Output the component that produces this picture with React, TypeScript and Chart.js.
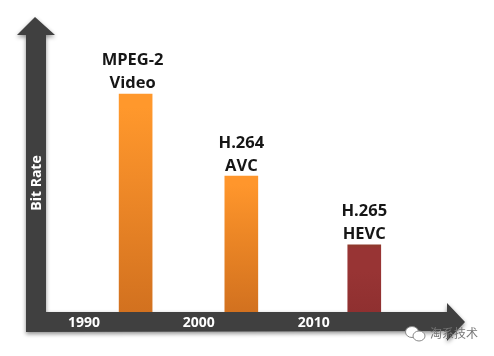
import React, { useEffect, useRef } from "react";
import { Chart, registerables } from "chart.js";

Chart.register(...registerables);

const codecLines: string[][] = [["MPEG-2", "Video"], ["H.264", "AVC"], ["H.265", "HEVC"]];
const releaseYears = [1994.5, 2003.7, 2014.4];
const bitRates = [84.5, 52.7, 26];
const topColors = ["#FF982C", "#FF962C", "#8E3A2C"];
const midColors = ["#F08A28", "#EE8826", "#983434"];
const bottomColors = ["#D2711F", "#D2711F", "#8F3030"];
const tickYears = [1990, 2000, 2010];
const axisTitle = "Bit Rate";
const watermark = "淘系技术";
const AXIS = "#404040";
const FONT = '"Open Sans", "Noto Sans", sans-serif';
const labelShift = [-3, 0, 0];

const axesPlugin = {
  id: "arrowAxes",
  beforeDraw(chart: any) {
    const { ctx, chartArea: a } = chart;
    ctx.save();
    ctx.fillStyle = "#fff";
    ctx.fillRect(0, 0, chart.width, chart.height);
    ctx.shadowColor = "rgba(0,0,0,0.45)";
    ctx.shadowBlur = 4;
    ctx.shadowOffsetY = 2;
    ctx.fillStyle = AXIS;
    const l = a.left, b = a.bottom, r = a.right;
    ctx.beginPath();
    ctx.moveTo(l - 20, b + 20);
    ctx.lineTo(l - 20, a.top - 19);
    ctx.lineTo(l - 29, a.top - 19);
    ctx.lineTo(l - 11, a.top - 37);
    ctx.lineTo(l + 9, a.top - 19);
    ctx.lineTo(l, a.top - 19);
    ctx.lineTo(l, b);
    ctx.lineTo(r, b);
    ctx.lineTo(r, b - 9);
    ctx.lineTo(r + 18, b + 10);
    ctx.lineTo(r, b + 29);
    ctx.lineTo(r, b + 19);
    ctx.closePath();
    ctx.fill();
    ctx.restore();
  },
};

const labelsPlugin = {
  id: "barLabels",
  afterDatasetsDraw(chart: any) {
    const { ctx } = chart;
    const meta = chart.getDatasetMeta(0);
    ctx.save();
    ctx.fillStyle = "#161616";
    ctx.font = `bold 16.5px ${FONT}`;
    ctx.textAlign = "center";
    ctx.textBaseline = "alphabetic";
    meta.data.forEach((bar: any, i: number) => {
      const [a, b] = codecLines[i];
      ctx.fillText(a, bar.x + labelShift[i], bar.y - 28.5);
      ctx.fillText(b, bar.x + labelShift[i], bar.y - 5.5);
    });
    ctx.restore();
  },
  afterDraw(chart: any) {
    const { ctx, chartArea: a } = chart;
    const cx = a.right - 33, cy = a.bottom + 21;
    ctx.save();
    ctx.strokeStyle = "#8a8a8a";
    ctx.fillStyle = "#fff";
    ctx.lineWidth = 1;
    ctx.beginPath();
    ctx.ellipse(cx - 2, cy - 1, 6.5, 5.5, 0, 0, Math.PI * 2);
    ctx.fill();
    ctx.stroke();
    ctx.beginPath();
    ctx.ellipse(cx + 5, cy + 3, 6, 5, 0, 0, Math.PI * 2);
    ctx.fill();
    ctx.stroke();
    ctx.fillStyle = "#777";
    ctx.font = '12px "Noto Sans CJK SC"';
    ctx.textBaseline = "middle";
    ctx.textAlign = "left";
    ctx.fillText(watermark, a.right - 17, a.bottom + 21);
    ctx.restore();
  },
};

export default function App() {
  const ref = useRef<HTMLCanvasElement>(null);
  useEffect(() => {
    const chart = new Chart(ref.current as HTMLCanvasElement, {
      type: "bar",
      data: {
        datasets: [
          {
            data: releaseYears.map((x, i) => ({ x, y: bitRates[i] })),
            barThickness: 33,
            backgroundColor: (c: any) => {
              const { chart: ch, dataIndex } = c;
              const yS = ch.scales.y;
              if (!yS || dataIndex === undefined) return topColors[0];
              const y0 = yS.getPixelForValue(bitRates[dataIndex]);
              const y1 = yS.getPixelForValue(0);
              if (!Number.isFinite(y0) || !Number.isFinite(y1)) return topColors[dataIndex];
              const g = ch.ctx.createLinearGradient(0, y0, 0, y1);
              g.addColorStop(0, topColors[dataIndex]);
              g.addColorStop(0.06, dataIndex === 2 ? midColors[2] : topColors[dataIndex]);
              g.addColorStop(0.4, midColors[dataIndex]);
              g.addColorStop(1, bottomColors[dataIndex]);
              return g;
            },
          },
        ],
      },
      options: {
        responsive: false,
        animation: false,
        layout: { padding: { left: 26, top: 54, right: 47, bottom: 24 } },
        plugins: { legend: { display: false }, tooltip: { enabled: false } },
        scales: {
          x: {
            type: "linear",
            min: 1986.7,
            max: 2021.6,
            offset: false,
            grid: { display: false, drawTicks: false },
            border: { display: false },
            afterFit: (s: any) => { s.height = 20; s.paddingLeft = 0; s.paddingRight = 0; },
            afterBuildTicks: (s: any) => { s.ticks = tickYears.map((value) => ({ value })); },
            ticks: {
              color: "#fff",
              padding: 3,
              maxRotation: 0,
              autoSkip: false,
              font: { family: FONT, weight: "bold", size: 14 },
              callback: (v: any) => String(v),
            },
          },
          y: {
            min: 0,
            max: 100,
            grid: { display: false, drawTicks: false },
            border: { display: false },
            ticks: { display: false },
            afterFit: (s: any) => { s.width = 20; },
            title: {
              display: true,
              text: axisTitle,
              color: "#fff",
              padding: { top: 3, bottom: 0 },
              font: { family: FONT, weight: "bold", size: 14 },
            },
          },
        },
      },
      plugins: [axesPlugin, labelsPlugin],
    } as any);
    return () => chart.destroy();
  }, []);
  return (
    <canvas
      ref={ref}
      width={494}
      height={356}
      style={{ position: "absolute", left: 0, top: 0, display: "block" }}
    />
  );
}
